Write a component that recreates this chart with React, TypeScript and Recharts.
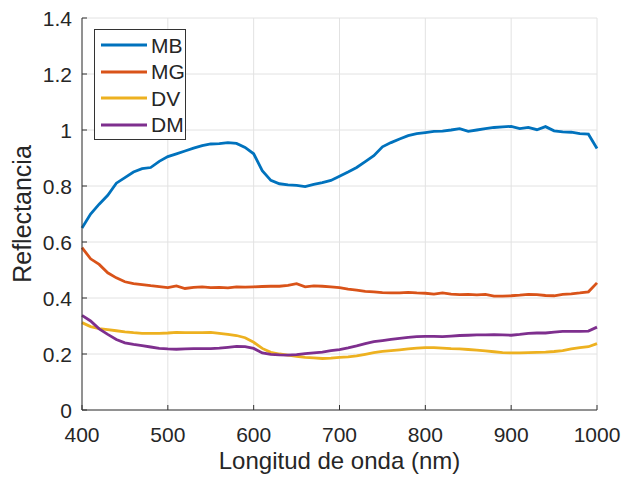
import React from "react";
import { LineChart, Line, XAxis, YAxis, CartesianGrid, Legend } from "recharts";

const wavelengths = [
  400, 410, 420, 430, 440, 450, 460, 470, 480, 490,
  500, 510, 520, 530, 540, 550, 560, 570, 580, 590,
  600, 610, 620, 630, 640, 650, 660, 670, 680, 690,
  700, 710, 720, 730, 740, 750, 760, 770, 780, 790,
  800, 810, 820, 830, 840, 850, 860, 870, 880, 890,
  900, 910, 920, 930, 940, 950, 960, 970, 980, 990, 1000,
];

const MB = [
  0.65, 0.7, 0.735, 0.767, 0.81, 0.83, 0.85, 0.862, 0.866, 0.888,
  0.905, 0.915, 0.925, 0.935, 0.944, 0.95, 0.951, 0.955, 0.952, 0.938,
  0.915, 0.855, 0.82, 0.808, 0.804, 0.802, 0.798, 0.806, 0.812, 0.82,
  0.835, 0.85, 0.866, 0.887, 0.908, 0.94, 0.955, 0.968, 0.98, 0.987,
  0.991, 0.995, 0.996, 1.0, 1.005, 0.995, 1.0, 1.005, 1.009, 1.011,
  1.013, 1.005, 1.009, 1.001, 1.012, 0.997, 0.993, 0.992, 0.987, 0.985, 0.934,
];

const MG = [
  0.58, 0.54, 0.52, 0.49, 0.472, 0.458, 0.451, 0.448, 0.444, 0.441,
  0.437, 0.443, 0.434, 0.438, 0.44, 0.437, 0.438, 0.436, 0.44, 0.439,
  0.44, 0.441, 0.442, 0.442, 0.445, 0.451, 0.44, 0.443, 0.442, 0.44,
  0.437, 0.432, 0.428, 0.424, 0.422, 0.419, 0.418, 0.418, 0.42, 0.418,
  0.417, 0.414, 0.418, 0.414, 0.412, 0.413, 0.411, 0.413, 0.407, 0.407,
  0.408, 0.41, 0.413, 0.412, 0.409, 0.408, 0.413, 0.415, 0.418, 0.422, 0.454,
];

const DV = [
  0.312, 0.298, 0.291, 0.287, 0.283, 0.279, 0.276, 0.274, 0.274, 0.274,
  0.275, 0.277, 0.276, 0.276, 0.276, 0.277, 0.274, 0.27, 0.266, 0.258,
  0.242, 0.22, 0.206, 0.2, 0.196, 0.192, 0.188, 0.186, 0.184, 0.185,
  0.188, 0.19, 0.193, 0.199, 0.205, 0.209, 0.212, 0.215, 0.218, 0.221,
  0.223, 0.223, 0.221, 0.219, 0.218, 0.216, 0.214, 0.211, 0.208, 0.205,
  0.204, 0.204, 0.205, 0.206, 0.207, 0.209, 0.212, 0.218, 0.223, 0.226, 0.237,
];

const DM = [
  0.338, 0.318, 0.29, 0.27, 0.252, 0.24, 0.234, 0.23, 0.225, 0.22,
  0.218, 0.217, 0.218, 0.219, 0.219, 0.219, 0.221, 0.224, 0.227, 0.226,
  0.22, 0.204, 0.199, 0.197, 0.196, 0.198, 0.201, 0.204, 0.207, 0.212,
  0.216, 0.222, 0.229, 0.237, 0.244, 0.248, 0.252, 0.256, 0.259, 0.262,
  0.263, 0.263, 0.262, 0.264, 0.266, 0.267, 0.268, 0.268, 0.269, 0.268,
  0.267, 0.27, 0.274, 0.275, 0.275, 0.278, 0.281, 0.281, 0.281, 0.282, 0.296,
];

const xTicks = [400, 500, 600, 700, 800, 900, 1000];
const yTicks = [0, 0.2, 0.4, 0.6, 0.8, 1, 1.2, 1.4];

const seriesNames = ["MB", "MG", "DV", "DM"];
const seriesColors = ["#0072BD", "#D95319", "#EDB120", "#7E2F8E"];

const data = wavelengths.map((nm, i) => ({
  nm,
  MB: MB[i],
  MG: MG[i],
  DV: DV[i],
  DM: DM[i],
}));

const FONT = "'Liberation Sans', Arial, Helvetica, sans-serif";
const AX = "#333333";
const TXT = "#262626";
const TICK_LEN = 5;

const BottomTick = (props: any) => {
  const { x, y, payload } = props;
  const axisY = y - 17;
  return (
    <g>
      <line x1={x} x2={x} y1={axisY} y2={axisY - TICK_LEN} stroke={AX} strokeWidth={1} />
      <text x={x} y={y} dy={15} textAnchor="middle" fill={TXT} fontSize={21} fontFamily={FONT}>
        {payload.value}
      </text>
    </g>
  );
};

const TopTick = (props: any) => {
  const { x, y } = props;
  return <line x1={x} x2={x} y1={y} y2={y + TICK_LEN} stroke={AX} strokeWidth={1} />;
};

const fmtY = (v: number) => (v === 0 || v === 1 ? String(v) : v.toFixed(1));

const LeftTick = (props: any) => {
  const { x, y, payload } = props;
  const axisX = x + 10;
  return (
    <g>
      <line x1={axisX} x2={axisX + TICK_LEN} y1={y} y2={y} stroke={AX} strokeWidth={1} />
      <text x={x} y={y} dy={7.5} textAnchor="end" fill={TXT} fontSize={21} fontFamily={FONT}>
        {fmtY(payload.value)}
      </text>
    </g>
  );
};

const RightTick = (props: any) => {
  const { x, y } = props;
  return <line x1={x} x2={x - TICK_LEN} y1={y} y2={y} stroke={AX} strokeWidth={1} />;
};

const LegendBox = (props: any) => {
  const payload = [...(props.payload || [])].sort(
    (a: any, b: any) => seriesNames.indexOf(a.value) - seriesNames.indexOf(b.value)
  );
  return (
    <div
      style={{
        border: `1px solid ${AX}`,
        background: "#ffffff",
        width: 90,
        padding: "2px 0 1px 0",
        fontFamily: FONT,
        fontSize: 21,
        color: TXT,
      }}
    >
      {payload.map((entry: any) => (
        <div key={entry.value} style={{ display: "flex", alignItems: "center", height: 26.5 }}>
          <svg width={56} height={10} style={{ display: "block" }}>
            <line x1={6} x2={52} y1={5} y2={5} stroke={entry.color} strokeWidth={3} />
          </svg>
          <span style={{ lineHeight: "21px" }}>{entry.value}</span>
        </div>
      ))}
    </div>
  );
};

export default function App() {
  return (
    <div style={{ width: 627, height: 469, background: "#ffffff" }}>
      <LineChart
        width={627}
        height={469}
        data={data}
        margin={{ top: 10, right: 38, bottom: 27, left: 0 }}
      >
        <CartesianGrid xAxisId="b" yAxisId="l" stroke="#e2e2e2" strokeWidth={1} />
        <XAxis
          xAxisId="b"
          dataKey="nm"
          type="number"
          domain={[400, 1000]}
          ticks={xTicks}
          interval={0}
          height={40}
          tickSize={0}
          tickMargin={17}
          tickLine={false}
          axisLine={{ stroke: AX, strokeWidth: 1 }}
          tick={<BottomTick />}
          label={{
            value: "Longitud de onda (nm)",
            position: "insideBottom",
            offset: -19,
            fill: TXT,
            fontSize: 24,
            fontFamily: FONT,
          }}
        />
        <XAxis
          xAxisId="t"
          orientation="top"
          dataKey="nm"
          type="number"
          domain={[400, 1000]}
          ticks={xTicks}
          interval={0}
          height={0}
          tickSize={0}
          tickMargin={0}
          tickLine={false}
          axisLine={{ stroke: AX, strokeWidth: 1 }}
          tick={<TopTick />}
        />
        <YAxis
          yAxisId="l"
          type="number"
          domain={[0, 1.4]}
          ticks={yTicks}
          interval={0}
          width={74}
          tickSize={0}
          tickMargin={10}
          tickLine={false}
          axisLine={{ stroke: AX, strokeWidth: 1 }}
          tick={<LeftTick />}
          label={{
            value: "Reflectancia",
            angle: -90,
            position: "insideLeft",
            offset: 14,
            fill: TXT,
            fontSize: 25,
            fontFamily: FONT,
            style: { textAnchor: "middle" },
          }}
        />
        <YAxis
          yAxisId="r"
          orientation="right"
          type="number"
          domain={[0, 1.4]}
          ticks={yTicks}
          interval={0}
          width={0}
          tickSize={0}
          tickMargin={0}
          tickLine={false}
          axisLine={{ stroke: AX, strokeWidth: 1 }}
          tick={<RightTick />}
        />
        <Legend
          layout="horizontal"
          verticalAlign="middle"
          align="center"
          content={<LegendBox />}
          wrapperStyle={{ position: "absolute", left: 86, top: 21, width: 92, height: 109 }}
        />
        {seriesNames.map((name, i) => (
          <Line
            key={name}
            xAxisId="b"
            yAxisId="l"
            type="linear"
            dataKey={name}
            name={name}
            stroke={seriesColors[i]}
            strokeWidth={2.8}
            dot={false}
            activeDot={false}
            isAnimationActive={false}
          />
        ))}
      </LineChart>
    </div>
  );
}
